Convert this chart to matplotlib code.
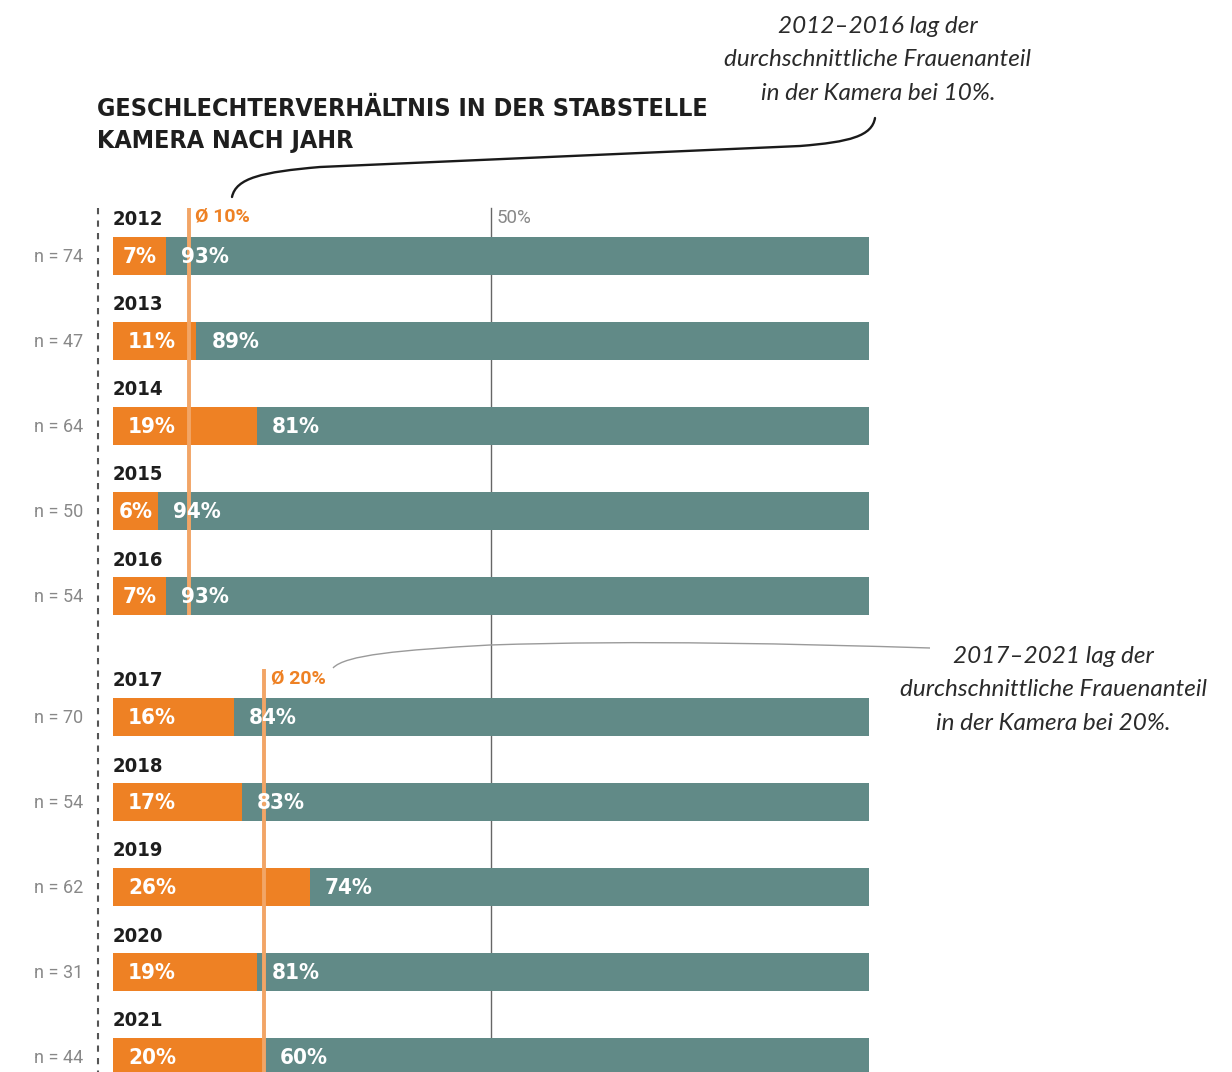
import matplotlib
matplotlib.use("Agg")
import matplotlib.pyplot as plt
from matplotlib.path import Path
from matplotlib.patches import PathPatch

# ---------------- data ----------------
years = ["2012", "2013", "2014", "2015", "2016", "2017", "2018", "2019", "2020", "2021"]
n_values = [74, 47, 64, 50, 54, 70, 54, 62, 31, 44]
female_pct = [7, 11, 19, 6, 7, 16, 17, 26, 19, 20]
male_label_pct = [93, 89, 81, 94, 93, 84, 83, 74, 81, 60]
group_of_year = [0, 0, 0, 0, 0, 1, 1, 1, 1, 1]
group_avg = [10, 20]
reference_pct = 50
title_lines = ["GESCHLECHTERVERHÄLTNIS IN DER STABSTELLE", "KAMERA NACH JAHR"]
note_texts = ["2012–2016 lag der\ndurchschnittliche Frauenanteil\nin der Kamera bei 10%.",
              "2017–2021 lag der\ndurchschnittliche Frauenanteil\nin der Kamera bei 20%."]

# ---------------- style ----------------
ORANGE = "#EE8124"
AVG = "#F2A566"
TEAL = "#618A87"
DARK = "#1e1e1e"
GRAY = "#888888"
COND = dict(family=["DejaVu Sans"], fontstretch="condensed", fontweight="bold")
HAND = ["Lato", "DejaVu Sans"]
THIN = ["Roboto", "DejaVu Sans"]

W, H = 1232, 1072
fig = plt.figure(figsize=(W / 100, H / 100), dpi=100)
ax = fig.add_axes([0, 0, 1, 1])

# x in percent: 0% at px 113, 100% at px 869
PXU = 7.56
X0 = 113
ax.set_xlim(-X0 / PXU, (W - X0) / PXU)
# y in row units: row 0 centre at px 256, spacing 85 px
ROW = 85.0
Y0 = 256
ax.set_ylim((H - Y0) / ROW, -Y0 / ROW)
ax.axis("off")


def px(xp, yp):
    return ((xp - X0) / PXU, (yp - Y0) / ROW)


GAP = 36 / ROW
ypos = [i + GAP * g for i, g in enumerate(group_of_year)]
bh = 38 / ROW

# 50% reference line (behind bars)
top = px(0, 208)[1]
bottom = px(0, H)[1]
ax.plot([reference_pct, reference_pct], [top, bottom], color="#666666", lw=1.0, zorder=1)
ax.text(reference_pct + 0.8, px(0, 218)[1], f"{reference_pct}%", color=GRAY, fontsize=13.5,
        family=THIN, va="center", ha="left")

# dashed axis line
dx = px(98, 0)[0]
ax.plot([dx, dx], [top, bottom], color="#555555", lw=1.5, ls=(0, (3, 3)), zorder=1)

for i, y in enumerate(ypos):
    f = female_pct[i]
    ax.barh(y, f, height=bh, left=0, color=ORANGE, zorder=2)
    ax.barh(y, 100 - f, height=bh, left=f, color=TEAL, zorder=2)
    # labels
    if f < 10:
        ax.text(f / 2, y + 1 / ROW, f"{f}%", color="white", fontsize=16,
                ha="center", va="center", zorder=4, **COND)
    else:
        ax.text(2, y + 1 / ROW, f"{f}%", color="white", fontsize=16,
                ha="left", va="center", zorder=4, **COND)
    ax.text(f + 2, y + 1 / ROW, f"{male_label_pct[i]}%", color="white", fontsize=16,
            ha="left", va="center", zorder=4, **COND)
    ax.text(0, y - 36 / ROW, years[i], color=DARK, fontsize=14.5,
            ha="left", va="center", zorder=4, **COND)
    ax.text(px(83, 0)[0], y + 1 / ROW, f"n = {n_values[i]}", color=GRAY, fontsize=13,
            family=THIN, ha="right", va="center")

# group average lines
for g, avg in enumerate(group_avg):
    idx = [i for i, gg in enumerate(group_of_year) if gg == g]
    y_first = ypos[idx[0]]
    y_last = ypos[idx[-1]]
    ytop = y_first - 48 / ROW
    ybot = min(y_last + bh / 2, bottom)
    ax.plot([avg, avg], [ytop, ybot], color=AVG, lw=2.8, zorder=3, solid_capstyle="butt")
    ax.text(avg + 0.9, y_first - 39 / ROW, f"Ø {avg}%", color=ORANGE, fontsize=14,
            family=THIN, fontweight="bold", ha="left", va="center", zorder=4)

# title
for k, line in enumerate(title_lines):
    tx, ty = px(97, 109 + 32 * k)
    ax.text(tx, ty, line, color=DARK, fontsize=18, ha="left", va="center", **COND)

# handwritten notes
nx, ny = px(878, 60)
ax.text(nx, ny, note_texts[0], color="#2a2a2a", fontsize=17.5, family=HAND, fontstyle="italic",
        ha="center", va="center", linespacing=1.72)
nx, ny = px(1053, 690)
ax.text(nx, ny, note_texts[1], color="#2a2a2a", fontsize=17.5, family=HAND, fontstyle="italic",
        ha="center", va="center", linespacing=1.72)

# connector curves
def curve(points, codes, **kw):
    verts = [px(a, b) for a, b in points]
    ax.add_patch(PathPatch(Path(verts, codes), fill=False, **kw))

C4 = Path.CURVE4
curve([(232, 197), (236, 178), (262, 172), (320, 167), (800, 146),
       (850, 142), (872, 136), (875, 118)],
      [Path.MOVETO, C4, C4, C4, Path.LINETO, C4, C4, C4],
      color="#1a1a1a", lw=1.7, zorder=5, capstyle="round")
curve([(333, 668), (345, 655), (400, 650), (490, 645), (640, 640), (800, 644), (930, 648)],
      [Path.MOVETO, C4, C4, C4, C4, C4, C4],
      color="#9a9a9a", lw=1.0, zorder=5)

fig.savefig("out.png", dpi=100)
